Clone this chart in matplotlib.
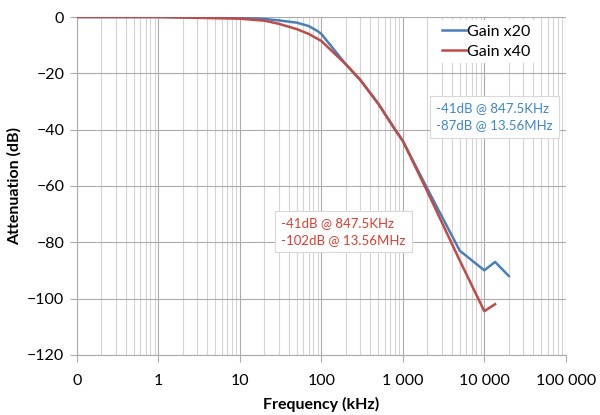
import matplotlib
matplotlib.use("Agg")
import matplotlib.pyplot as plt
from matplotlib.ticker import FixedLocator, FixedFormatter, LogLocator

# Frequency response (kHz / dB)
freq_x20 = [0.1, 1, 10, 20, 30, 50, 70, 90, 100, 200, 300, 500, 847.5, 1000, 2000, 5000, 10000, 13560, 20000]
att_x20 = [0, 0, -0.3, -0.7, -1.2, -2.0, -3.2, -5.0, -6.0, -16.8, -22.3, -30.8, -41, -44, -61, -83, -90, -87, -92]

freq_x40 = [0.1, 1, 10, 20, 30, 50, 70, 100, 200, 300, 500, 847.5, 1000, 2000, 5000, 10000, 13560]
att_x40 = [0, 0, -0.6, -1.3, -2.4, -4.3, -6.0, -8.5, -16.8, -22.3, -30.8, -41, -44, -62, -86.5, -104.5, -102]

xticks = [0.1, 1, 10, 100, 1000, 10000, 100000]
xtick_labels = ["0", "1", "10", "100", "1 000", "10 000", "100 000"]
yticks = [0, -20, -40, -60, -80, -100, -120]

note_x20 = "-41dB @ 847.5KHz\n-87dB @ 13.56MHz"
note_x40 = "-41dB @ 847.5KHz\n-102dB @ 13.56MHz"

blue = "#4a7ebb"
red = "#be4b48"

plt.rcParams["font.family"] = ["Lato", "DejaVu Sans"]

fig = plt.figure(figsize=(6, 4.15), dpi=100)
ax = fig.add_axes([0.128, 0.145, 0.815, 0.814])

ax.plot(freq_x20, att_x20, color=blue, lw=1.8, label="Gain x20", zorder=3)
ax.plot(freq_x40, att_x40, color=red, lw=1.8, label="Gain x40", zorder=3)

ax.set_xscale("log")
ax.set_xlim(0.1, 100000)
ax.set_ylim(-120, 0)

ax.xaxis.set_major_locator(FixedLocator(xticks))
ax.xaxis.set_major_formatter(FixedFormatter(xtick_labels))
ax.xaxis.set_minor_locator(LogLocator(base=10, subs=range(2, 10), numticks=20))
ax.yaxis.set_major_locator(FixedLocator(yticks))

ax.grid(which="major", color="#ababab", lw=0.8)
ax.grid(which="minor", axis="x", color="#d4d4d4", lw=0.8)
ax.set_axisbelow(True)

for s in ["top", "right"]:
    ax.spines[s].set_visible(False)
for s in ["left", "bottom"]:
    ax.spines[s].set_color("#ababab")

ax.tick_params(axis="both", which="major", length=5, color="#ababab", labelsize=11.5)
ax.tick_params(axis="x", which="major", pad=9)
ax.tick_params(axis="y", which="major", pad=4)
ax.tick_params(axis="x", which="minor", length=0)

ax.set_xlabel("Frequency (kHz)", fontsize=11.5, fontweight="bold", labelpad=6)
ax.set_ylabel("Attenuation (dB)", fontsize=11.5, fontweight="bold", labelpad=4)

leg = ax.legend(loc="upper left", bbox_to_anchor=(0.72, 1.015), frameon=True, fontsize=11.5,
                handlelength=1.5, handletextpad=0.1, borderpad=0.3, labelspacing=0.35)
leg.get_frame().set_edgecolor("none")
leg.get_frame().set_facecolor("white")
leg.get_frame().set_alpha(1)

box = dict(boxstyle="square,pad=0.5", facecolor="white", edgecolor="#d9d9d9", lw=0.8)
ax.text(0.735, 0.705, note_x20, transform=ax.transAxes, color="#3d86cc", fontsize=9.5,
        va="center", ha="left", bbox=box, linespacing=1.45, zorder=4)
ax.text(0.418, 0.365, note_x40, transform=ax.transAxes, color="#e03c31", fontsize=9.5,
        va="center", ha="left", bbox=box, linespacing=1.45, zorder=4)

fig.savefig("out.png", dpi=100)
